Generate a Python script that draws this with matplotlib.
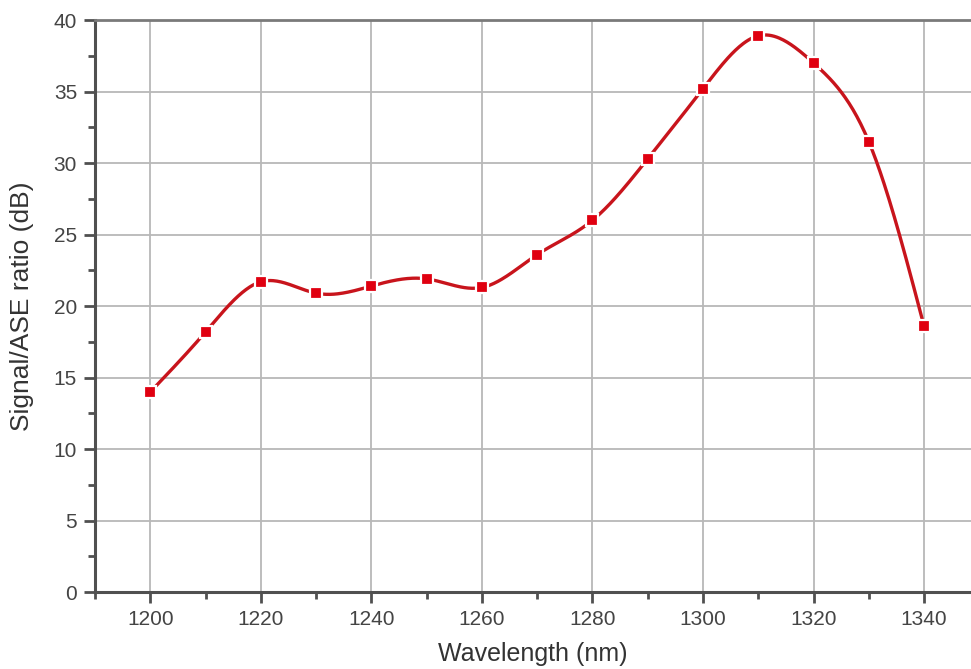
import numpy as np
import matplotlib
matplotlib.use("Agg")
import matplotlib.pyplot as plt
from matplotlib.ticker import MultipleLocator

wavelength = [1200, 1210, 1220, 1230, 1240, 1250, 1260, 1270, 1280, 1290, 1300, 1310, 1320, 1330, 1340]
ratio_db = [14.0, 18.2, 21.7, 20.9, 21.4, 21.9, 21.3, 23.6, 26.0, 30.3, 35.2, 38.9, 37.0, 31.5, 18.6]


def natural_spline(x, y, n=600):
    # plain natural cubic spline, only used to draw the smooth connecting line
    x = np.asarray(x, float)
    y = np.asarray(y, float)
    k = len(x)
    h = np.diff(x)
    A = np.zeros((k, k))
    b = np.zeros(k)
    A[0, 0] = A[-1, -1] = 1
    for i in range(1, k - 1):
        A[i, i - 1] = h[i - 1]
        A[i, i] = 2 * (h[i - 1] + h[i])
        A[i, i + 1] = h[i]
        b[i] = 3 * ((y[i + 1] - y[i]) / h[i] - (y[i] - y[i - 1]) / h[i - 1])
    c = np.linalg.solve(A, b)
    xs = np.linspace(x[0], x[-1], n)
    idx = np.clip(np.searchsorted(x, xs) - 1, 0, k - 2)
    dx = xs - x[idx]
    hi = h[idx]
    bi = (y[idx + 1] - y[idx]) / hi - hi * (2 * c[idx] + c[idx + 1]) / 3
    di = (c[idx + 1] - c[idx]) / (3 * hi)
    ys = y[idx] + bi * dx + c[idx] * dx ** 2 + di * dx ** 3
    return xs, ys


plt.rcParams['font.family'] = ['Liberation Sans', 'DejaVu Sans']

fig = plt.figure(figsize=(9.71, 6.69), dpi=100)
ax = fig.add_axes([0.098, 0.115, 0.902, 0.855])

xs, ys = natural_spline(wavelength, ratio_db)
ax.plot(xs, ys, color='#c8141c', lw=2.4, zorder=3)
ax.plot(wavelength, ratio_db, ls='none', marker='s', ms=8, color='#e00010',
        mec='white', mew=1.6, zorder=4)

ax.set_xlim(1190, 1348.5)
ax.set_ylim(0, 40)
ax.xaxis.set_major_locator(MultipleLocator(20))
ax.xaxis.set_minor_locator(MultipleLocator(10))
ax.yaxis.set_major_locator(MultipleLocator(5))
ax.yaxis.set_minor_locator(MultipleLocator(2.5))
ax.grid(True, which='major', color='#b8b8b8', lw=1.3)
ax.set_axisbelow(True)

for side in ['left', 'bottom']:
    ax.spines[side].set_linewidth(2.2)
    ax.spines[side].set_color('#505050')
ax.spines['top'].set_linewidth(2.0)
ax.spines['top'].set_color('#7a7a7a')
ax.spines['right'].set_visible(False)

ax.tick_params(which='major', direction='out', length=8, width=2, color='#505050',
               labelsize=15, labelcolor='#444444', pad=5)
ax.tick_params(which='minor', direction='out', length=5, width=2, color='#505050')

ax.set_xlabel('Wavelength (nm)', fontsize=18, color='#333333')
ax.set_ylabel('Signal/ASE ratio (dB)', fontsize=19, color='#333333')
ax.xaxis.set_label_coords(0.5, -0.087)
ax.yaxis.set_label_coords(-0.07, 0.5)

fig.savefig('out.png', dpi=100)
